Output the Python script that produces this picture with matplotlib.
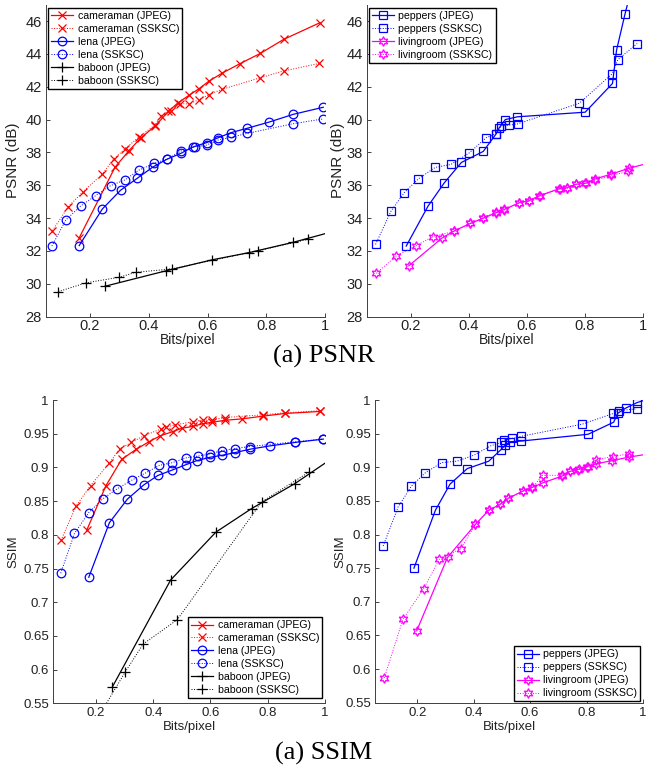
import matplotlib
matplotlib.use("Agg")
import matplotlib.pyplot as plt

# ---------------- data: PSNR ----------------
cam_jpeg_bpp_p = [0.163, 0.285, 0.332, 0.374, 0.421, 0.467, 0.498, 0.537, 0.571, 0.604, 0.649, 0.71, 0.78, 0.859, 0.983]
cam_jpeg_psnr = [32.8, 37.1, 38.1, 38.9, 39.6, 40.5, 41.0, 41.48, 41.88, 42.33, 42.82, 43.4, 44.03, 44.88, 45.9]
cam_ssksc_bpp_p = [0.072, 0.126, 0.175, 0.241, 0.281, 0.32, 0.365, 0.421, 0.442, 0.477, 0.506, 0.537, 0.571, 0.604, 0.649, 0.78, 0.859, 0.981]
cam_ssksc_psnr = [33.24, 34.7, 35.59, 36.67, 37.62, 38.23, 38.92, 39.67, 40.24, 40.5, 40.97, 40.95, 41.21, 41.52, 41.84, 42.55, 42.96, 43.42]

lena_jpeg_bpp_p = [0.163, 0.242, 0.304, 0.361, 0.413, 0.461, 0.51, 0.55, 0.597, 0.637, 0.679, 0.735, 0.81, 0.892, 0.994]
lena_jpeg_psnr = [32.33, 34.56, 35.7, 36.43, 37.1, 37.58, 37.95, 38.33, 38.6, 38.9, 39.2, 39.47, 39.85, 40.32, 40.75]
lena_ssksc_bpp_p = [0.07, 0.118, 0.168, 0.219, 0.27, 0.319, 0.365, 0.418, 0.461, 0.51, 0.558, 0.597, 0.637, 0.679, 0.735, 0.892, 0.994]
lena_ssksc_psnr = [32.3, 33.9, 34.74, 35.37, 35.98, 36.33, 36.91, 37.34, 37.58, 38.09, 38.35, 38.45, 38.76, 38.92, 39.16, 39.75, 40.04]

bab_jpeg_bpp_p = [0.25, 0.458, 0.615, 0.741, 0.892, 1.02]
bab_jpeg_psnr = [29.85, 30.79, 31.46, 31.9, 32.53, 33.15]
bab_ssksc_bpp_p = [0.092, 0.186, 0.299, 0.355, 0.478, 0.773, 0.941]
bab_ssksc_psnr = [29.53, 30.06, 30.4, 30.7, 30.91, 32.02, 32.71]

pep_jpeg_bpp_p = [0.185, 0.26, 0.316, 0.375, 0.45, 0.494, 0.505, 0.526, 0.568, 0.801, 0.895, 0.909, 0.938, 0.975]
pep_jpeg_psnr = [32.3, 34.73, 36.15, 37.39, 38.06, 39.12, 39.5, 40.0, 40.17, 40.45, 42.2, 44.23, 46.42, 49.0]
pep_ssksc_bpp_p = [0.0795, 0.132, 0.178, 0.226, 0.285, 0.339, 0.401, 0.46, 0.494, 0.512, 0.539, 0.569, 0.781, 0.895, 0.913, 0.98]
pep_ssksc_psnr = [32.4, 34.41, 35.55, 36.38, 37.09, 37.27, 37.96, 38.89, 39.15, 39.62, 39.66, 39.74, 41.0, 42.8, 43.64, 44.63]

liv_jpeg_bpp_p = [0.194, 0.307, 0.351, 0.406, 0.448, 0.494, 0.523, 0.574, 0.607, 0.643, 0.711, 0.739, 0.77, 0.804, 0.834, 0.891, 0.951, 1.05]
liv_jpeg_psnr = [31.1, 32.77, 33.23, 33.68, 33.98, 34.33, 34.53, 34.94, 35.06, 35.36, 35.79, 35.85, 36.07, 36.13, 36.38, 36.68, 37.03, 37.5]
liv_ssksc_bpp_p = [0.082, 0.15, 0.219, 0.276, 0.351, 0.406, 0.448, 0.494, 0.523, 0.574, 0.607, 0.644, 0.713, 0.739, 0.771, 0.801, 0.834, 0.891, 0.95]
liv_ssksc_psnr = [30.64, 31.69, 32.32, 32.87, 33.2, 33.68, 34.0, 34.35, 34.5, 34.92, 35.02, 35.36, 35.77, 35.82, 36.05, 36.12, 36.3, 36.6, 36.85]

# ---------------- data: SSIM ----------------
cam_jpeg_bpp_s = [0.168, 0.235, 0.29, 0.341, 0.385, 0.425, 0.468, 0.499, 0.54, 0.574, 0.606, 0.652, 0.711, 0.782, 0.86, 0.982]
cam_jpeg_ssim = [0.807, 0.873, 0.912, 0.927, 0.938, 0.947, 0.953, 0.958, 0.961, 0.965, 0.967, 0.97, 0.972, 0.976, 0.980, 0.983]
cam_ssksc_bpp_s = [0.078, 0.131, 0.181, 0.246, 0.284, 0.324, 0.368, 0.427, 0.445, 0.476, 0.54, 0.574, 0.606, 0.652, 0.782, 0.86, 0.982]
cam_ssksc_ssim = [0.792, 0.843, 0.873, 0.906, 0.928, 0.937, 0.947, 0.957, 0.96, 0.963, 0.968, 0.97, 0.971, 0.974, 0.978, 0.981, 0.984]

lena_jpeg_bpp_s = [0.175, 0.247, 0.31, 0.367, 0.416, 0.466, 0.514, 0.552, 0.598, 0.641, 0.686, 0.738, 0.809, 0.895, 0.994]
lena_jpeg_ssim = [0.737, 0.818, 0.853, 0.874, 0.888, 0.896, 0.904, 0.91, 0.915, 0.918, 0.922, 0.927, 0.932, 0.937, 0.942]
lena_ssksc_bpp_s = [0.077, 0.125, 0.175, 0.223, 0.273, 0.325, 0.37, 0.421, 0.467, 0.514, 0.558, 0.598, 0.641, 0.686, 0.738, 0.895, 0.994]
lena_ssksc_ssim = [0.743, 0.802, 0.833, 0.853, 0.868, 0.881, 0.891, 0.903, 0.907, 0.914, 0.917, 0.92, 0.925, 0.928, 0.931, 0.938, 0.942]

bab_jpeg_bpp_s = [0.257, 0.461, 0.619, 0.744, 0.895, 1.02]
bab_jpeg_ssim = [0.574, 0.733, 0.804, 0.839, 0.876, 0.912]
bab_ssksc_bpp_s = [0.186, 0.303, 0.365, 0.484, 0.779, 0.944]
bab_ssksc_ssim = [0.514, 0.597, 0.638, 0.674, 0.849, 0.893]

pep_jpeg_bpp_s = [0.188, 0.264, 0.316, 0.377, 0.453, 0.496, 0.512, 0.53, 0.568, 0.805, 0.896, 0.91, 0.939, 0.978, 1.03]
pep_jpeg_ssim = [0.75, 0.836, 0.875, 0.898, 0.909, 0.926, 0.933, 0.938, 0.939, 0.949, 0.967, 0.98, 0.988, 0.996, 1.003]
pep_ssksc_bpp_s = [0.079, 0.132, 0.179, 0.229, 0.287, 0.34, 0.401, 0.461, 0.498, 0.506, 0.537, 0.568, 0.784, 0.895, 0.914, 0.978]
pep_ssksc_ssim = [0.783, 0.841, 0.872, 0.892, 0.907, 0.909, 0.918, 0.932, 0.937, 0.94, 0.943, 0.946, 0.964, 0.98, 0.984, 0.987]

liv_jpeg_bpp_s = [0.198, 0.307, 0.406, 0.453, 0.494, 0.523, 0.576, 0.607, 0.646, 0.714, 0.742, 0.772, 0.801, 0.833, 0.891, 0.95, 1.05]
liv_jpeg_ssim = [0.657, 0.766, 0.815, 0.836, 0.845, 0.854, 0.865, 0.87, 0.877, 0.887, 0.894, 0.897, 0.901, 0.905, 0.91, 0.915, 0.922]
liv_ssksc_bpp_s = [0.083, 0.149, 0.222, 0.278, 0.354, 0.406, 0.453, 0.494, 0.523, 0.573, 0.606, 0.644, 0.712, 0.741, 0.77, 0.805, 0.834, 0.892, 0.95]
liv_ssksc_ssim = [0.587, 0.674, 0.719, 0.763, 0.779, 0.815, 0.836, 0.845, 0.854, 0.864, 0.869, 0.888, 0.888, 0.894, 0.896, 0.901, 0.911, 0.916, 0.92]

psnr_ticks = [28, 30, 32, 34, 36, 38, 40, 42, 44, 46]
ssim_ticks = [0.55, 0.6, 0.65, 0.7, 0.75, 0.8, 0.85, 0.9, 0.95, 1.0]
ssim_ticklabels = ["0.55", "0.6", "0.65", "0.7", "0.75", "0.8", "0.85", "0.9", "0.95", "1"]
bpp_ticks = [0.2, 0.4, 0.6, 0.8, 1.0]
bpp_ticklabels = ["0.2", "0.4", "0.6", "0.8", "1"]

# ---------------- figure ----------------
W, H = 648, 769
fig = plt.figure(figsize=(W / 100, H / 100), dpi=100)
plt.rcParams['font.family'] = ['Liberation Sans', 'DejaVu Sans']

def px_axes(l, r, t, b):
    return fig.add_axes([l / W, 1 - b / H, (r - l) / W, (b - t) / H])

HEX = (6, 1, 0)
MK = dict(fillstyle='none', markeredgewidth=0.9)

def series(ax, x, y, color, marker, ms, ls, lw, label):
    ax.plot(x, y, color=color, marker=marker, ms=ms, ls=ls, lw=lw, label=label, **MK)

def style(ax, ylim, yticks, ytl, fs, xpad=3):
    ax.set_xlim(0.05, 1.0)
    ax.set_ylim(*ylim)
    ax.set_xticks(bpp_ticks)
    ax.set_xticklabels(bpp_ticklabels)
    ax.set_yticks(yticks)
    ax.set_yticklabels(ytl)
    for s in ['top', 'right']:
        ax.spines[s].set_visible(False)
    for s in ['left', 'bottom']:
        ax.spines[s].set_linewidth(0.7)
        ax.spines[s].set_color('#404040')
    ax.tick_params(direction='in', length=3, width=0.6, labelsize=fs, colors='#222222', pad=3)
    ax.tick_params(axis='x', pad=xpad)

def legend(ax, loc, anchor):
    lg = ax.legend(loc=loc, bbox_to_anchor=anchor, fontsize=7.6, frameon=True, fancybox=False,
                   edgecolor='black', framealpha=1, borderaxespad=0, handlelength=2.1,
                   handletextpad=0.4, labelspacing=0.28, borderpad=0.3, numpoints=1)
    lg.get_frame().set_linewidth(1.0)

# ---- PSNR left
ax = px_axes(46, 325, 4.6, 316.7)
series(ax, cam_jpeg_bpp_p, cam_jpeg_psnr, 'red', 'x', 5.5, '-', 0.9, 'cameraman (JPEG)')
series(ax, cam_ssksc_bpp_p, cam_ssksc_psnr, 'red', 'x', 5.5, ':', 0.7, 'cameraman (SSKSC)')
series(ax, lena_jpeg_bpp_p, lena_jpeg_psnr, 'blue', 'o', 6.2, '-', 0.9, 'lena (JPEG)')
series(ax, lena_ssksc_bpp_p, lena_ssksc_psnr, 'blue', 'o', 6.2, ':', 0.7, 'lena (SSKSC)')
series(ax, bab_jpeg_bpp_p, bab_jpeg_psnr, 'black', '+', 7, '-', 0.9, 'baboon (JPEG)')
series(ax, bab_ssksc_bpp_p, bab_ssksc_psnr, 'black', '+', 7, ':', 0.7, 'baboon (SSKSC)')
style(ax, (28, 47), psnr_ticks, [str(t) for t in psnr_ticks], 10.5, xpad=1.5)
legend(ax, 'upper left', (0.007, 0.99))

# ---- PSNR right
ax = px_axes(367, 643, 4.6, 316.7)
series(ax, pep_jpeg_bpp_p, pep_jpeg_psnr, 'blue', 's', 5.5, '-', 0.9, 'peppers (JPEG)')
series(ax, pep_ssksc_bpp_p, pep_ssksc_psnr, 'blue', 's', 5.5, ':', 0.7, 'peppers (SSKSC)')
series(ax, liv_jpeg_bpp_p, liv_jpeg_psnr, 'magenta', HEX, 7, '-', 0.9, 'livingroom (JPEG)')
series(ax, liv_ssksc_bpp_p, liv_ssksc_psnr, 'magenta', HEX, 7, ':', 0.7, 'livingroom (SSKSC)')
style(ax, (28, 47), psnr_ticks, [str(t) for t in psnr_ticks], 10.5, xpad=1.5)
legend(ax, 'upper left', (0.007, 0.99))

# ---- SSIM left
ax = px_axes(53, 325, 400, 703.3)
series(ax, cam_jpeg_bpp_s, cam_jpeg_ssim, 'red', 'x', 5.5, '-', 0.9, 'cameraman (JPEG)')
series(ax, cam_ssksc_bpp_s, cam_ssksc_ssim, 'red', 'x', 5.5, ':', 0.7, 'cameraman (SSKSC)')
series(ax, lena_jpeg_bpp_s, lena_jpeg_ssim, 'blue', 'o', 6.2, '-', 0.9, 'lena (JPEG)')
series(ax, lena_ssksc_bpp_s, lena_ssksc_ssim, 'blue', 'o', 6.2, ':', 0.7, 'lena (SSKSC)')
series(ax, bab_jpeg_bpp_s, bab_jpeg_ssim, 'black', '+', 7, '-', 0.9, 'baboon (JPEG)')
series(ax, bab_ssksc_bpp_s, bab_ssksc_ssim, 'black', '+', 7, ':', 0.7, 'baboon (SSKSC)')
style(ax, (0.55, 1.0), ssim_ticks, ssim_ticklabels, 9.5)
legend(ax, 'lower right', (0.99, 0.017))

# ---- SSIM right
ax = px_axes(375, 643, 400, 702.7)
series(ax, pep_jpeg_bpp_s, pep_jpeg_ssim, 'blue', 's', 5.5, '-', 0.9, 'peppers (JPEG)')
series(ax, pep_ssksc_bpp_s, pep_ssksc_ssim, 'blue', 's', 5.5, ':', 0.7, 'peppers (SSKSC)')
series(ax, liv_jpeg_bpp_s, liv_jpeg_ssim, 'magenta', HEX, 7, '-', 0.9, 'livingroom (JPEG)')
series(ax, liv_ssksc_bpp_s, liv_ssksc_ssim, 'magenta', HEX, 7, ':', 0.7, 'livingroom (SSKSC)')
style(ax, (0.55, 1.0), ssim_ticks, ssim_ticklabels, 9.5)
legend(ax, 'lower right', (0.99, 0.004))

# ---- axis labels
def ftext(x, y, s, **kw):
    fig.text(x / W, 1 - y / H, s, **kw)

ftext(13, 160, 'PSNR (dB)', rotation=90, ha='center', va='center', fontsize=11, color='#222222')
ftext(338, 160, 'PSNR (dB)', rotation=90, ha='center', va='center', fontsize=11, color='#222222')
ftext(13, 552, 'SSIM', rotation=90, ha='center', va='center', fontsize=9.5, color='#222222')
ftext(340, 552, 'SSIM', rotation=90, ha='center', va='center', fontsize=9.5, color='#222222')
ftext(188, 340, 'Bits/pixel', ha='center', va='center', fontsize=10, color='#222222')
ftext(507, 340, 'Bits/pixel', ha='center', va='center', fontsize=10, color='#222222')
ftext(189, 727, 'Bits/pixel', ha='center', va='center', fontsize=9.5, color='#222222')
ftext(509, 727, 'Bits/pixel', ha='center', va='center', fontsize=9.5, color='#222222')

ftext(324, 356, '(a) PSNR', ha='center', va='center', fontsize=19, family='Liberation Serif')
ftext(324, 753, '(a) SSIM', ha='center', va='center', fontsize=19, family='Liberation Serif')

fig.savefig('out.png', dpi=100)
